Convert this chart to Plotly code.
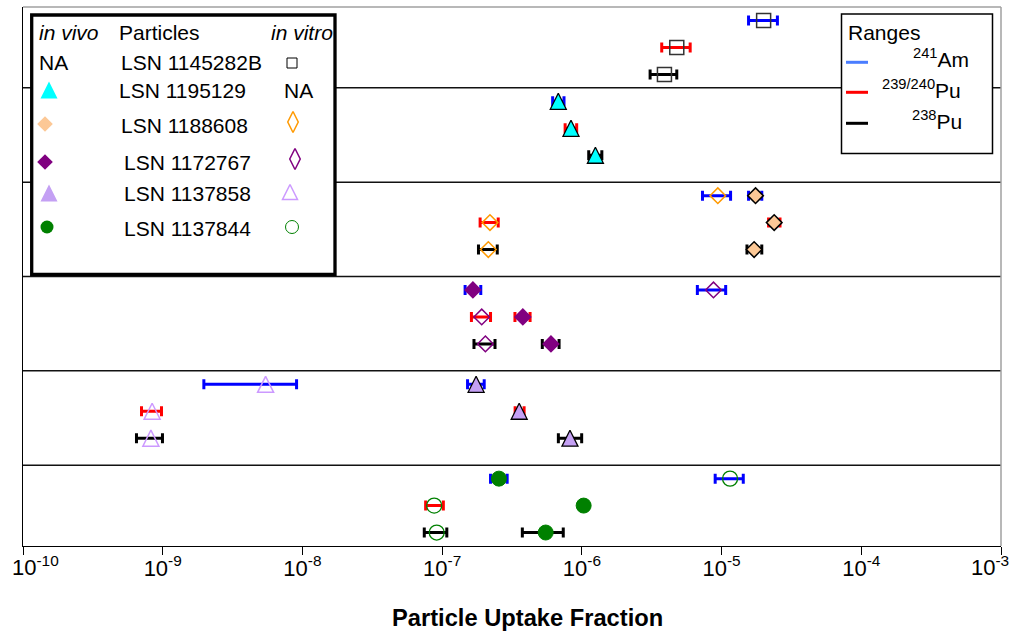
import plotly.graph_objects as go

# ---------------- data ----------------
particles = ["LSN 1145282B", "LSN 1195129", "LSN 1188608", "LSN 1172767", "LSN 1137858", "LSN 1137844"]
isotopes = ["<sup>241</sup>Am", "<sup>239/240</sup>Pu", "<sup>238</sup>Pu"]
tick_vals = [1e-10, 1e-9, 1e-8, 1e-7, 1e-6, 1e-5, 1e-4, 1e-3]
tick_text = ["10<sup>-10</sup>", "10<sup>-9</sup>", "10<sup>-8</sup>", "10<sup>-7</sup>",
             "10<sup>-6</sup>", "10<sup>-5</sup>", "10<sup>-4</sup>", "10<sup>-3</sup>"]

# in vitro uptake fraction (rows: particles, cols: 241Am, 239/240Pu, 238Pu); None = NA
vitro_val = [[2.0e-5, 4.78e-6, 3.90e-6], [None, None, None], [9.4e-6, 2.2e-7, 2.14e-7],
             [8.75e-6, 1.92e-7, 2.04e-7], [5.45e-9, 8.4e-10, 8.23e-10], [1.15e-5, 8.77e-8, 9.14e-8]]
vitro_lo = [[1.56e-5, 3.73e-6, 3.08e-6], [None, None, None], [7.3e-6, 1.87e-7, 1.82e-7],
            [6.71e-6, 1.62e-7, 1.69e-7], [1.97e-9, 7.05e-10, 6.49e-10], [9.0e-6, 7.62e-8, 7.45e-8]]
vitro_hi = [[2.51e-5, 5.96e-6, 4.78e-6], [None, None, None], [1.16e-5, 2.52e-7, 2.48e-7],
            [1.07e-5, 2.22e-7, 2.39e-7], [9.08e-9, 9.8e-10, 9.96e-10], [1.43e-5, 1.02e-7, 1.08e-7]]

# in vivo uptake fraction
vivo_val = [[None, None, None], [6.78e-7, 8.36e-7, 1.25e-6], [1.75e-5, 2.38e-5, 1.71e-5],
            [1.66e-7, 3.78e-7, 6.01e-7], [1.75e-7, 3.56e-7, 8.22e-7], [2.55e-7, 1.03e-6, 5.51e-7]]
vivo_lo = [[None, None, None], [6.18e-7, 7.59e-7, 1.12e-6], [1.56e-5, 2.17e-5, 1.52e-5],
           [1.46e-7, 3.32e-7, 5.21e-7], [1.52e-7, 3.33e-7, 6.79e-7], [2.22e-7, 1.03e-6, 3.75e-7]]
vivo_hi = [[None, None, None], [7.45e-7, 9.18e-7, 1.39e-6], [1.94e-5, 2.62e-5, 1.94e-5],
           [1.89e-7, 4.26e-7, 6.87e-7], [2.0e-7, 3.86e-7, 9.97e-7], [2.92e-7, 1.03e-6, 7.36e-7]]

# ---------------- styles / layout constants ----------------
FONT = "Liberation Sans, Arial, sans-serif"
iso_colors = ["#0000ff", "#ff0000", "#000000"]
legend_line_colors = ["#4a7dff", "#ff0000", "#000000"]
band_start = [0.5, 3.5, 7.0, 10.5, 14.0, 17.5]
dividers = [3.0, 6.5, 10.0, 13.5, 17.0]
Y_SPAN = 20.0

# triangles: arrow-down rotated 180 deg with standoff -> centred, near-equilateral triangle
def tri(size, color, **kw):
    return dict(symbol=kw.pop("symbol", "arrow-down"), size=size, color=color, angle=180,
                standoff=size / 2, **kw)

vivo_style = [None,
              tri(16, "#00ffff", line=dict(color="#000000", width=1.3)),
              dict(symbol="diamond", size=12, color="#fcc896", line=dict(color="#000000", width=1.5)),
              dict(symbol="diamond", size=12, color="#800080", line=dict(color="#800080", width=1.5)),
              tri(16, "#c4a0f4", line=dict(color="#000000", width=1.3)),
              dict(symbol="circle", size=15, color="#008000", line=dict(color="#008000", width=1))]
vitro_style = [dict(symbol="square-open", size=14, color="#333333", line=dict(width=1.5)),
               None,
               dict(symbol="diamond-open", size=12, color="#ff9900", line=dict(width=1.5)),
               dict(symbol="diamond-open", size=12, color="#800080", line=dict(width=1.5)),
               tri(16, "#cc99ff", symbol="arrow-down-open", line=dict(width=1.5)),
               dict(symbol="circle-open", size=15, color="#008000", line=dict(width=1.3))]

fig = go.Figure()

# error bars (one trace per isotope), drawn under markers
for i in range(3):
    xs, ys, plus, minus = [], [], [], []
    for b in range(len(particles)):
        for val, lo, hi in ((vitro_val, vitro_lo, vitro_hi), (vivo_val, vivo_lo, vivo_hi)):
            v = val[b][i]
            if v is None:
                continue
            xs.append(v)
            ys.append(band_start[b] + i)
            plus.append(hi[b][i] - v)
            minus.append(v - lo[b][i])
    fig.add_trace(go.Scatter(
        x=xs, y=ys, mode="markers", marker=dict(size=1, color="rgba(0,0,0,0)"),
        error_x=dict(type="data", symmetric=False, array=plus, arrayminus=minus,
                     color=iso_colors[i], thickness=3, width=5),
        hoverinfo="skip", showlegend=False))

# markers
for b in range(len(particles)):
    for val, styles, lab in ((vitro_val, vitro_style, "in vitro"), (vivo_val, vivo_style, "in vivo")):
        style = styles[b]
        if style is None:
            continue
        xs = [v for v in val[b] if v is not None]
        ys = [band_start[b] + i for i, v in enumerate(val[b]) if v is not None]
        fig.add_trace(go.Scatter(x=xs, y=ys, mode="markers", marker=style, cliponaxis=False,
                                 name=f"{particles[b]} {lab}", showlegend=False))

# ---------------- legend glyphs (pixel overlay axes) ----------------
leg_vivo_y = [None, 90, 124, 162, 193, 227]
leg_vitro_y = [63, None, 122, 159, 192, 227]
leg_vivo_style = [None,
                  tri(17, "#00ffff"),
                  dict(symbol="diamond", size=12, color="#fcc896"),
                  dict(symbol="diamond", size=12, color="#800080"),
                  tri(17, "#c4a0f4"),
                  dict(symbol="circle", size=13, color="#008000")]
leg_vitro_style = [dict(symbol="square-open", size=10, color="#000000", line=dict(width=1)),
                   None,
                   dict(symbol="diamond-tall-open", size=15, color="#ff9900", line=dict(width=1.5)),
                   dict(symbol="diamond-tall-open", size=15, color="#800080", line=dict(width=1.5)),
                   tri(15, "#cc99ff", symbol="arrow-down-open", line=dict(width=1.5)),
                   dict(symbol="circle-open", size=13, color="#008000", line=dict(width=1))]
leg_vivo_x = [None, 49, 45, 45, 49, 47]
leg_vitro_x = [292, None, 293, 295, 290, 292]
for b in range(len(particles)):
    if leg_vivo_style[b] is not None:
        fig.add_trace(go.Scatter(x=[leg_vivo_x[b]], y=[leg_vivo_y[b]], xaxis="x2", yaxis="y2", mode="markers",
                                 marker=leg_vivo_style[b], cliponaxis=False, hoverinfo="skip", showlegend=False))
    if leg_vitro_style[b] is not None:
        fig.add_trace(go.Scatter(x=[leg_vitro_x[b]], y=[leg_vitro_y[b]], xaxis="x2", yaxis="y2", mode="markers",
                                 marker=leg_vitro_style[b], cliponaxis=False, hoverinfo="skip", showlegend=False))

# ---------------- shapes & annotations ----------------
L, R, T, B = 23, 1001, 7, 546
def ax(px):
    return (px - L) / (R - L)
def ay(py):
    return (B - py) / (B - T)

shapes = []
for d in dividers:
    yp = 1 - d / Y_SPAN
    shapes.append(dict(type="line", xref="paper", yref="paper", x0=0, x1=1, y0=yp, y1=yp,
                       line=dict(color="#111111", width=1.5), layer="below"))
# left legend box
shapes.append(dict(type="rect", xref="paper", yref="paper", x0=ax(31.7), x1=ax(335), y0=ay(15), y1=ay(274.3),
                   line=dict(color="#000000", width=3.3), fillcolor="white", layer="below"))
# top & right frame (gray)
shapes.append(dict(type="line", xref="paper", yref="paper", x0=0, x1=1, y0=1, y1=1,
                   line=dict(color="#a0a0a0", width=1.5), layer="above"))
shapes.append(dict(type="line", xref="paper", yref="paper", x0=1, x1=1, y0=0, y1=1,
                   line=dict(color="#a0a0a0", width=1.5), layer="above"))
# right legend box
shapes.append(dict(type="rect", xref="paper", yref="paper", x0=ax(841.5), x1=ax(992.5), y0=ay(14), y1=ay(153.5),
                   line=dict(color="#000000", width=1.5), fillcolor="white", layer="above"))
range_line_y = [62.3, 92.3, 123.3]
for i in range(3):
    shapes.append(dict(type="line", xref="paper", yref="paper", x0=ax(846), x1=ax(868),
                       y0=ay(range_line_y[i]), y1=ay(range_line_y[i]),
                       line=dict(color=legend_line_colors[i], width=3), layer="above"))

annotations = []
def note(text, x, y, size=21, xanchor="left"):
    annotations.append(dict(text=text, x=ax(x), y=ay(y), xref="paper", yref="paper", xanchor=xanchor,
                            yanchor="middle", showarrow=False, font=dict(family=FONT, size=size, color="black")))

note("<i>in vivo</i>", 37, 33)
note("Particles", 117, 33)
note("<i>in vitro</i>", 269, 33)
note("NA", 37, 62)
note("NA", 282, 90)
part_x = [119, 117, 119, 122, 122, 122]
part_y = [62, 90, 126, 162, 193, 228]
for b in range(len(particles)):
    note(particles[b], part_x[b], part_y[b])

note("Ranges", 846, 32)
range_lab_x = [971, 963, 964]
range_lab_y = [58.5, 89, 120]
for i in range(3):
    note(isotopes[i], range_lab_x[i], range_lab_y[i], xanchor="right")

# the two end tick labels are kept inside the figure (as in the reference)
note(tick_text[0], 10, 565.5, size=22, xanchor="left")
note(tick_text[-1], 1011, 565.5, size=22, xanchor="right")
axis_ticktext = [""] + tick_text[1:-1] + [""]

annotations.append(dict(text="<b>Particle Uptake Fraction</b>", x=ax(527), y=ay(618), xref="paper", yref="paper",
                        xanchor="center", yanchor="middle", showarrow=False,
                        font=dict(family=FONT, size=23.7, color="black")))

fig.update_layout(
    width=1018, height=637,
    margin=dict(l=L, r=1018 - R, t=T, b=637 - B, pad=0, autoexpand=False),
    paper_bgcolor="white", plot_bgcolor="white",
    showlegend=False,
    font=dict(family=FONT, color="black"),
    xaxis=dict(type="log", range=[-10, -3], tickvals=tick_vals, ticktext=axis_ticktext,
               ticks="outside", ticklen=8, tickwidth=1.3, tickcolor="black",
               showline=True, linecolor="black", linewidth=1.3, mirror=False,
               showgrid=False, zeroline=False, automargin=False, ticklabelstandoff=-6,
               tickfont=dict(family=FONT, size=22, color="black"), fixedrange=True),
    yaxis=dict(range=[Y_SPAN, 0], showticklabels=False, ticks="", showline=True, linecolor="black",
               linewidth=1.3, showgrid=False, zeroline=False, automargin=False, fixedrange=True),
    xaxis2=dict(overlaying="x", anchor="y2", range=[L, R], visible=False, fixedrange=True),
    yaxis2=dict(overlaying="y", anchor="x2", range=[B, T], visible=False, fixedrange=True),
    shapes=shapes, annotations=annotations,
)

fig.write_html("out.html")
